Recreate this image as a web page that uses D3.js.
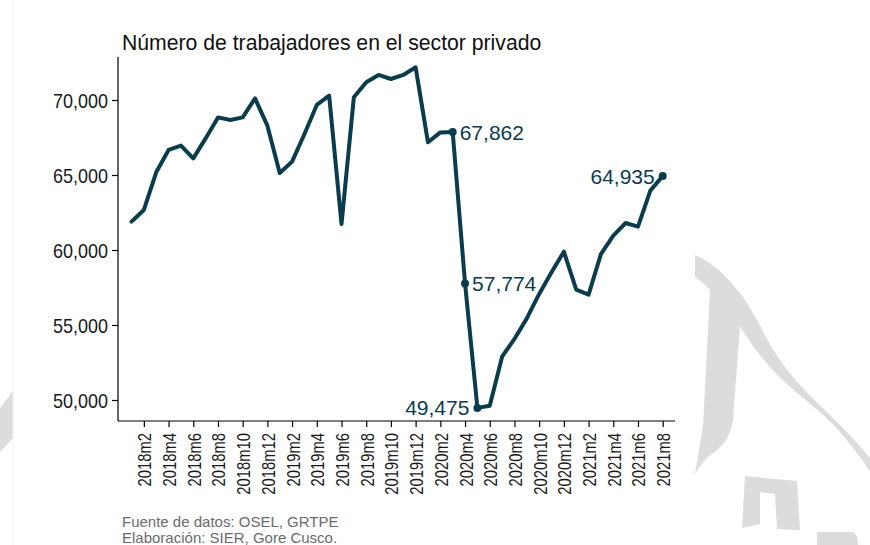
<!DOCTYPE html>
<html>
<head>
<meta charset="utf-8">
<script src="https://cdn.jsdelivr.net/npm/d3@7"></script>
<style>
  body { margin: 0; background: #fff; }
  svg { display: block; font-family: "Liberation Sans", Arial, sans-serif; }
</style>
</head>
<body>
<svg width="870" height="545"></svg>
<script>
// monthly values, 2018m1 .. 2021m8
var years = [2018, 2019, 2020, 2021];
var values2018 = [61890, 62670, 65180, 66670, 66960, 66110, 67440, 68840, 68670, 68840, 70110, 68290];
var values2019 = [65130, 65890, 67730, 69670, 70290, 61730, 70180, 71180, 71670, 71400, 71670, 72180];
var values2020 = [67180, 67840, 67862, 57774, 49475, 49620, 52890, 54070, 55440, 57070, 58510, 59890];
var values2021 = [57360, 57020, 59730, 60960, 61800, 61560, 63960, 64935];
var yTicks = [50000, 55000, 60000, 65000, 70000];
// labelled points: index in the series and side of the label
var labelled = [
    { i: 26, side: "right" },
    { i: 27, side: "right" },
    { i: 28, side: "left" },
    { i: 43, side: "left" }
];

var title = "Número de trabajadores en el sector privado";
var notes = ["Fuente de datos: OSEL, GRTPE", "Elaboración: SIER, Gore Cusco."];

// build the series table
var data = [];
[values2018, values2019, values2020, values2021].forEach(function (arr, k) {
    arr.forEach(function (v, m) {
        data.push({ label: years[k] + "m" + (m + 1), value: v });
    });
});

var svg = d3.select("svg");
var lineColor = "#0b3c4d";

// light grey watermark in the background
var mark = svg.append("g").attr("fill", "#dcdcdc");
mark.append("path")
    .attr("d", "M695,255 C725,268 748,300 765,335 C785,375 815,400 840,425 C855,440 865,452 870,458 L870,472 " +
               "C860,455 840,430 822,414 C800,395 780,380 764,360 C752,345 745,335 740,326 " +
               "L733,420 C730,438 722,448 710,455 C703,462 698,468 695,474 L703,427 L710,290 C705,284 699,280 695,277 Z");
mark.append("path")
    .attr("d", "M745,476 L797,481 L800,530 L777,529 L775,494 L760,492 L760,524 L742,528 Z");
mark.append("path")
    .attr("d", "M817,532 L852,532 C856,533 858,537 858,545 L817,545 Z");
mark.append("path")
    .attr("d", "M13,391 L13,438 L0,452 L0,408 Z");
svg.append("line")
    .attr("x1", 13).attr("x2", 13).attr("y1", 0).attr("y2", 545)
    .attr("stroke", "#f0f0f0").attr("stroke-width", 1);

// scales
var x = d3.scaleLinear().domain([0, data.length - 1]).range([131.5, 662.7]);
var y = d3.scaleLinear().domain([50000, 70000]).range([400, 100]);

// axes lines
svg.append("line")
    .attr("x1", 118).attr("x2", 118).attr("y1", 57).attr("y2", 421)
    .attr("stroke", "#000").attr("stroke-width", 1.2);
svg.append("line")
    .attr("x1", 118).attr("x2", 675).attr("y1", 421).attr("y2", 421)
    .attr("stroke", "#000").attr("stroke-width", 1.2);

// y axis
var yAxis = d3.axisLeft(y)
    .tickValues(yTicks)
    .tickSize(6)
    .tickPadding(4)
    .tickFormat(d3.format(","));
var gy = svg.append("g").attr("transform", "translate(118,0)").call(yAxis);
gy.select(".domain").remove();
gy.selectAll(".tick line").attr("stroke", "#000").attr("stroke-width", 1.2);
gy.selectAll(".tick text")
    .attr("fill", "#1a1a1a")
    .style("font-size", "20px")
    .attr("dy", "0.36em")
    .attr("transform", "scale(0.9,1)")
    .attr("x", -10 / 0.9);

// x axis: every second month
var xTickIdx = d3.range(1, data.length, 2);
var xAxis = d3.axisBottom(x)
    .tickValues(xTickIdx)
    .tickSize(6)
    .tickFormat(function (d) { return data[d].label; });
var gx = svg.append("g").attr("transform", "translate(0,421)").call(xAxis);
gx.select(".domain").remove();
gx.selectAll(".tick line").attr("stroke", "#000").attr("stroke-width", 1.2);
gx.selectAll(".tick text")
    .attr("fill", "#1a1a1a")
    .style("font-size", "19px")
    .attr("text-anchor", "end")
    .attr("x", 0).attr("y", 0).attr("dy", 0)
    .attr("transform", "translate(7,12) rotate(-90) scale(0.78,1)");

// the series line
var line = d3.line()
    .x(function (d, i) { return x(i); })
    .y(function (d) { return y(d.value); });
svg.append("path")
    .datum(data)
    .attr("d", line)
    .attr("fill", "none")
    .attr("stroke", lineColor)
    .attr("stroke-width", 4)
    .attr("stroke-linejoin", "round")
    .attr("stroke-linecap", "round");

// labelled points
var fmt = d3.format(",");
var pts = svg.append("g").selectAll("g")
    .data(labelled)
    .enter().append("g")
    .attr("transform", function (d) { return "translate(" + x(d.i) + "," + y(data[d.i].value) + ")"; });
pts.append("circle").attr("r", 4).attr("fill", lineColor);
pts.append("text")
    .attr("x", function (d) { return d.side == "right" ? 7 : -8; })
    .attr("dy", "0.36em")
    .attr("text-anchor", function (d) { return d.side == "right" ? "start" : "end"; })
    .attr("fill", lineColor)
    .style("font-size", "21px")
    .text(function (d) { return fmt(data[d.i].value); });

// title and notes
svg.append("text")
    .attr("x", 122).attr("y", 50)
    .style("font-size", "21.2px")
    .attr("fill", "#111")
    .text(title);
svg.selectAll(".note")
    .data(notes)
    .enter().append("text")
    .attr("class", "note")
    .attr("x", 122)
    .attr("y", function (d, i) { return 527 + i * 16; })
    .style("font-size", "15px")
    .attr("fill", "#6b6b6b")
    .text(function (d) { return d; });
</script>
</body>
</html>
